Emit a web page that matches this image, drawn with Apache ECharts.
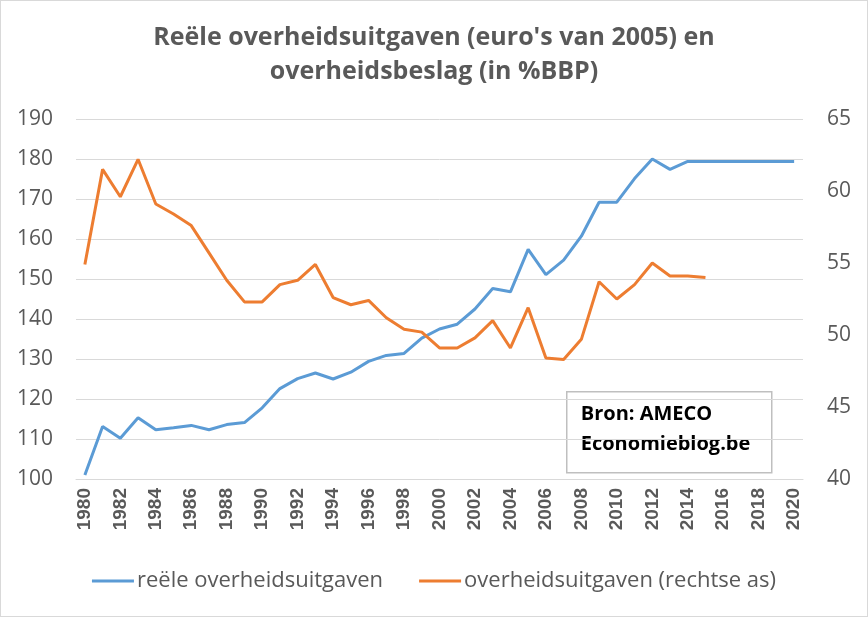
<!DOCTYPE html>
<html>
<head>
<meta charset="utf-8">
<script src="https://cdn.jsdelivr.net/npm/echarts@6/dist/echarts.min.js"></script>
<style>
  html, body { margin: 0; padding: 0; background: #fff; }
  #chart { width: 868px; height: 617px; box-sizing: border-box; border: 1px solid #d9d9d9; }
</style>
</head>
<body>
<div id="chart"></div>
<script>
// jaren op de x-as
const years = ['1980','1981','1982','1983','1984','1985','1986','1987','1988','1989',
  '1990','1991','1992','1993','1994','1995','1996','1997','1998','1999',
  '2000','2001','2002','2003','2004','2005','2006','2007','2008','2009',
  '2010','2011','2012','2013','2014','2015','2016','2017','2018','2019','2020']

// reële overheidsuitgaven (index, linkse as)
const reeleUitgaven = [101.0, 113.1, 110.2, 115.3, 112.3, 112.8, 113.4, 112.3, 113.6, 114.1,
  117.8, 122.6, 125.1, 126.5, 125.0, 126.7, 129.4, 130.9, 131.4, 135.2,
  137.5, 138.7, 142.5, 147.6, 146.8, 157.4, 151.1, 154.7, 160.7, 169.2,
  169.2, 175.1, 180.0, 177.4, 179.4, 179.4, 179.4, 179.4, 179.4, 179.4, 179.4]

// overheidsuitgaven in %BBP (rechtse as)
const uitgavenBBP = [54.9, 61.5, 59.6, 62.2, 59.1, 58.4, 57.6, 55.7, 53.8, 52.3,
  52.3, 53.5, 53.8, 54.9, 52.6, 52.1, 52.4, 51.2, 50.4, 50.2,
  49.1, 49.1, 49.8, 51.0, 49.1, 51.9, 48.4, 48.3, 49.7, 53.7,
  52.5, 53.5, 55.0, 54.1, 54.1, 54.0, null, null, null, null, null]

const font = '"Open Sans", sans-serif'
const grey = '#595959'

const chart = echarts.init(document.getElementById('chart'))
chart.setOption({
  animation: false,
  title: {
    text: "Reële overheidsuitgaven (euro's van 2005) en\noverheidsbeslag (in %BBP)",
    left: 'center',
    top: 15,
    textStyle: {fontFamily: font, fontSize: 25, fontWeight: 'bold', color: grey, lineHeight: 34},
  },
  legend: {
    bottom: 19,
    left: 'center',
    itemGap: 36,
    itemWidth: 42,
    itemHeight: 3,
    icon: 'rect',
    textStyle: {fontFamily: font, fontSize: 22, color: grey, padding: [0, 0, 0, -2]},
    data: ['reële overheidsuitgaven', 'overheidsuitgaven (rechtse as)'],
  },
  grid: {left: 75, right: 64, top: 118, bottom: 137},
  xAxis: {
    type: 'category',
    data: years,
    boundaryGap: true,
    axisLine: {show: true, lineStyle: {color: '#d9d9d9'}},
    axisTick: {show: false},
    axisLabel: {
      interval: 1,
      rotate: 90,
      margin: 9,
      fontFamily: 'Liberation Sans, Arial, sans-serif',
      fontSize: 19,
      fontWeight: 'bold',
      color: grey,
    },
  },
  yAxis: [
    {
      type: 'value',
      min: 100,
      max: 190,
      interval: 10,
      axisLine: {show: false},
      axisTick: {show: false},
      axisLabel: {fontFamily: font, fontSize: 21, color: grey, margin: 23},
      splitLine: {lineStyle: {color: '#d9d9d9', width: 1}},
    },
    {
      type: 'value',
      min: 40,
      max: 65,
      interval: 5,
      axisLine: {show: false},
      axisTick: {show: false},
      axisLabel: {fontFamily: font, fontSize: 21, color: grey, margin: 24},
      splitLine: {show: false},
    },
  ],
  series: [
    {
      name: 'reële overheidsuitgaven',
      type: 'line',
      data: reeleUitgaven,
      yAxisIndex: 0,
      showSymbol: false,
      lineStyle: {color: '#5B9BD5', width: 3},
      itemStyle: {color: '#5B9BD5'},
    },
    {
      name: 'overheidsuitgaven (rechtse as)',
      type: 'line',
      data: uitgavenBBP,
      yAxisIndex: 1,
      showSymbol: false,
      lineStyle: {color: '#ED7D31', width: 3},
      itemStyle: {color: '#ED7D31'},
    },
  ],
  graphic: [
    {
      type: 'group',
      left: 565,
      top: 390,
      children: [
        {
          type: 'rect',
          shape: {x: 0, y: 0, width: 205, height: 81},
          style: {fill: '#fff', stroke: '#bfbfbf', lineWidth: 1.5},
        },
        {
          type: 'text',
          x: 14,
          y: 8,
          style: {
            text: 'Bron: AMECO\nEconomieblog.be',
            font: 'bold 20px "Open Sans", sans-serif',
            fill: '#000',
            lineHeight: 30,
          },
        },
      ],
    },
  ],
})
</script>
</body>
</html>
